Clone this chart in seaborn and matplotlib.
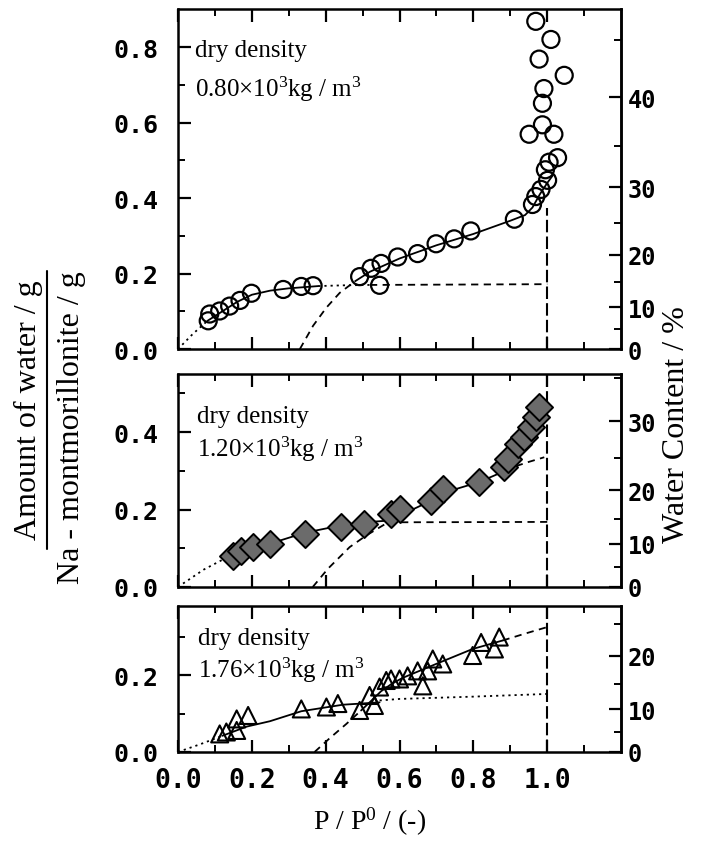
import numpy as np
import matplotlib
matplotlib.use("Agg")
import matplotlib.pyplot as plt
import seaborn as sns
from matplotlib.lines import Line2D

# ---------------- data ----------------
# Panel 1: dry density 0.80e3 kg/m3, open circles
p1_x = [0.082, 0.086, 0.113, 0.14, 0.168, 0.199, 0.285, 0.334, 0.366, 0.492, 0.523, 0.55,
        0.546, 0.595, 0.649, 0.699, 0.748, 0.793, 0.911, 0.96, 0.969, 0.983, 1.001, 1.005,
        0.995, 1.028, 0.951, 1.018, 0.987, 0.987, 0.991, 1.046, 0.978, 1.01, 0.969]
p1_y = [0.075, 0.093, 0.101, 0.114, 0.129, 0.148, 0.158, 0.166, 0.168, 0.192, 0.214, 0.227,
        0.169, 0.244, 0.253, 0.279, 0.292, 0.313, 0.344, 0.383, 0.404, 0.423, 0.447, 0.495,
        0.475, 0.507, 0.569, 0.569, 0.594, 0.651, 0.690, 0.725, 0.768, 0.82, 0.868]
p1_a_dot_x = [0.0, 0.04, 0.08]
p1_a_dot_y = [0.0, 0.04, 0.075]
p1_a_solid_x = [0.08, 0.12, 0.16, 0.2, 0.25, 0.3, 0.38]
p1_a_solid_y = [0.075, 0.1, 0.125, 0.144, 0.155, 0.161, 0.167]
p1_a_dot2_x = [0.38, 0.45, 0.52]
p1_a_dot2_y = [0.167, 0.169, 0.17]
p1_a_dash_x = [0.52, 1.0]
p1_a_dash_y = [0.17, 0.172]
p1_b_dash_x = [0.33, 0.366, 0.402, 0.438, 0.48]
p1_b_dash_y = [0.0, 0.062, 0.11, 0.149, 0.18]
p1_b_solid_x = [0.48, 0.52, 0.6, 0.7, 0.8, 0.9, 0.94, 0.96, 0.98, 1.0, 1.015]
p1_b_solid_y = [0.18, 0.205, 0.24, 0.275, 0.305, 0.34, 0.355, 0.375, 0.41, 0.44, 0.46]
p1_vline_y = [0.0, 0.374]

# Panel 2: dry density 1.20e3 kg/m3, filled diamonds
p2_x = [0.149, 0.172, 0.204, 0.249, 0.343, 0.442, 0.505, 0.577, 0.6, 0.686, 0.717, 0.816,
        0.884, 0.893, 0.92, 0.938, 0.956, 0.969, 0.978]
p2_y = [0.081, 0.094, 0.103, 0.111, 0.137, 0.154, 0.163, 0.189, 0.202, 0.223, 0.253, 0.271,
        0.309, 0.330, 0.369, 0.387, 0.412, 0.438, 0.464]
p2_a_dot_x = [0.0, 0.07, 0.14]
p2_a_dot_y = [0.0, 0.045, 0.08]
p2_solid_x = [0.14, 0.2, 0.25, 0.343, 0.442, 0.505, 0.564, 0.6, 0.686, 0.753, 0.816, 0.879, 0.915]
p2_solid_y = [0.08, 0.1, 0.112, 0.14, 0.159, 0.167, 0.171, 0.184, 0.223, 0.253, 0.271, 0.297, 0.312]
p2_a_dash_x = [0.57, 1.0]
p2_a_dash_y = [0.167, 0.168]
p2_b_dash_x = [0.365, 0.406, 0.465, 0.51, 0.555, 0.6]
p2_b_dash_y = [0.0, 0.047, 0.103, 0.133, 0.159, 0.184]
p2_b_dash2_x = [0.915, 0.95, 0.992]
p2_b_dash2_y = [0.312, 0.323, 0.335]
p2_vline_y = [0.0, 0.55]

# Panel 3: dry density 1.76e3 kg/m3, open triangles
p3_x = [0.113, 0.131, 0.159, 0.159, 0.19, 0.334, 0.402, 0.433, 0.492, 0.532, 0.519, 0.546,
        0.564, 0.577, 0.6, 0.622, 0.649, 0.663, 0.676, 0.69, 0.717, 0.798, 0.821, 0.857, 0.87]
p3_y = [0.047, 0.052, 0.056, 0.086, 0.095, 0.112, 0.117, 0.126, 0.108, 0.121, 0.147, 0.169,
        0.186, 0.19, 0.19, 0.198, 0.211, 0.172, 0.211, 0.242, 0.229, 0.251, 0.285, 0.268, 0.299]
p3_a_dot_x = [0.0, 0.06, 0.12]
p3_a_dot_y = [0.0, 0.02, 0.042]
p3_a_solid_x = [0.12, 0.186, 0.249, 0.334, 0.447, 0.546]
p3_a_solid_y = [0.042, 0.066, 0.08, 0.106, 0.123, 0.129]
p3_a_dot2_x = [0.546, 0.6, 0.8, 1.0]
p3_a_dot2_y = [0.134, 0.138, 0.144, 0.151]
p3_b_dash_x = [0.37, 0.41, 0.456, 0.496]
p3_b_dash_y = [0.0, 0.035, 0.073, 0.108]
p3_b_solid_x = [0.496, 0.52, 0.55, 0.58, 0.609, 0.699, 0.798, 0.879]
p3_b_solid_y = [0.108, 0.13, 0.158, 0.178, 0.193, 0.229, 0.268, 0.29]
p3_b_dash2_x = [0.879, 0.94, 1.0]
p3_b_dash2_y = [0.29, 0.308, 0.325]
p3_vline_y = [0.0, 0.38]

density_labels = ["0.80", "1.20", "1.76"]
x_ticks = [0.0, 0.2, 0.4, 0.6, 0.8, 1.0]

# ---------------- style ----------------
sns.set_theme(style="ticks")
plt.rcParams.update({
    "font.family": ["DejaVu Sans Mono"],
    "font.weight": "bold",
    "text.color": "black",
    "axes.labelcolor": "black",
    "mathtext.fontset": "custom",
    "mathtext.rm": "Liberation Serif:weight=normal",
    "mathtext.it": "Liberation Serif:italic:weight=normal",
    "mathtext.bf": "Liberation Serif:bold",
    "axes.linewidth": 1.8,
    "axes.edgecolor": "black",
    "xtick.color": "black", "ytick.color": "black",
    "xtick.labelcolor": "black", "ytick.labelcolor": "black",
    "xtick.direction": "in", "ytick.direction": "in",
    "xtick.major.size": 9, "xtick.minor.size": 5,
    "ytick.major.size": 9, "ytick.minor.size": 5,
    "xtick.major.width": 1.6, "xtick.minor.width": 1.4,
    "ytick.major.width": 1.6, "ytick.minor.width": 1.4,
    "axes.facecolor": "white", "figure.facecolor": "white",
})

SERIF = "Liberation Serif"
fig = plt.figure(figsize=(7.09, 8.54), dpi=100)
L, W = 0.251, 0.625
ax1 = fig.add_axes([L, 0.590, W, 0.398])
ax2 = fig.add_axes([L, 0.3115, W, 0.2494])
ax3 = fig.add_axes([L, 0.1183, W, 0.171])


def w2pct(w):
    w = np.asarray(w, dtype=float)
    with np.errstate(all="ignore"):
        return 100.0 * w / (1.0 + w)


def pct2w(p):
    p = np.asarray(p, dtype=float)
    with np.errstate(all="ignore"):
        return p / (100.0 - p)


def line(ax, xs, ys, ls, lw=1.3):
    sns.lineplot(x=xs, y=ys, ax=ax, color="black", linewidth=lw, linestyle=ls,
                 sort=False, estimator=None)


DOT = (0, (1.2, 2.2))
DASH = (0, (4, 3))
VDASH = (0, (6, 2))


def setup(ax, ylim, yticks, yminor, rticks, rminor, label_x, text_pos, dens):
    ax.set_xlim(0, 1.2)
    ax.set_ylim(*ylim)
    ax.set_xticks(x_ticks)
    ax.set_xticks([0.1, 0.3, 0.5, 0.7, 0.9, 1.1], minor=True)
    ax.set_yticks(yticks)
    ax.set_yticks(yminor, minor=True)
    ax.set_yticklabels([f"{v:.1f}" for v in yticks], fontsize=18)
    ax.set_xticklabels([f"{v:.1f}" for v in x_ticks], fontsize=19)
    ax.tick_params(axis="x", which="both", top=True, bottom=True, labelbottom=label_x, pad=11)
    ax.tick_params(axis="y", which="both", left=True, right=False, pad=14)
    ax.set_xlabel("")
    ax.set_ylabel("")
    sec = ax.secondary_yaxis("right", functions=(w2pct, pct2w))
    sec.set_yticks(rticks)
    sec.set_yticks(rminor, minor=True)
    sec.set_yticklabels([str(v) for v in rticks], fontsize=17)
    sec.tick_params(axis="y", which="both", direction="in", pad=5)
    sec.tick_params(axis="y", which="major", length=9, width=1.6)
    sec.tick_params(axis="y", which="minor", length=5, width=1.4)
    for s in ax.spines.values():
        s.set_linewidth(1.8)
    tx, ty1, ty2 = text_pos
    ax.text(tx, ty1, "dry density", transform=ax.transAxes, fontsize=18,
            family=SERIF, weight="normal", va="baseline", color="black")
    ax.text(tx, ty2, dens + "\u00d710$^{3}$kg / m$^{3}$", transform=ax.transAxes,
            fontsize=18, family=SERIF, weight="normal", va="baseline", color="black")


# ---------------- panel 1 ----------------
line(ax1, p1_a_dot_x, p1_a_dot_y, DOT)
line(ax1, p1_a_solid_x, p1_a_solid_y, "-")
line(ax1, p1_a_dot2_x, p1_a_dot2_y, DOT)
line(ax1, p1_a_dash_x, p1_a_dash_y, DASH)
line(ax1, p1_b_dash_x, p1_b_dash_y, DASH)
line(ax1, p1_b_solid_x, p1_b_solid_y, "-")
line(ax1, [1.0, 1.0], p1_vline_y, VDASH, lw=1.5)
sns.scatterplot(x=p1_x, y=p1_y, ax=ax1, marker="o", s=150, facecolors="none",
                edgecolor="black", linewidth=1.6, zorder=3)
setup(ax1, (0, 0.9), [0.0, 0.2, 0.4, 0.6, 0.8], [0.1, 0.3, 0.5, 0.7],
      [0, 10, 20, 30, 40], [5, 15, 25, 35, 45], False, (0.038, 0.862, 0.744),
      density_labels[0])

# ---------------- panel 2 ----------------
line(ax2, p2_a_dot_x, p2_a_dot_y, DOT)
line(ax2, p2_solid_x, p2_solid_y, "-")
line(ax2, p2_a_dash_x, p2_a_dash_y, DASH)
line(ax2, p2_b_dash_x, p2_b_dash_y, DASH)
line(ax2, p2_b_dash2_x, p2_b_dash2_y, DASH)
line(ax2, [1.0, 1.0], p2_vline_y, VDASH, lw=1.5)
sns.scatterplot(x=p2_x, y=p2_y, ax=ax2, marker="D", s=190, color="#6b6b6b",
                edgecolor="black", linewidth=1.4, zorder=3)
setup(ax2, (0, 0.55), [0.0, 0.2, 0.4], [0.1, 0.3, 0.5],
      [0, 10, 20, 30], [5, 15, 25, 35], False, (0.042, 0.775, 0.615),
      density_labels[1])

# ---------------- panel 3 ----------------
line(ax3, p3_a_dot_x, p3_a_dot_y, DOT)
line(ax3, p3_a_solid_x, p3_a_solid_y, "-")
line(ax3, p3_a_dot2_x, p3_a_dot2_y, DOT)
line(ax3, p3_b_dash_x, p3_b_dash_y, DASH)
line(ax3, p3_b_solid_x, p3_b_solid_y, "-")
line(ax3, p3_b_dash2_x, p3_b_dash2_y, DASH)
line(ax3, [1.0, 1.0], p3_vline_y, VDASH, lw=1.5)
sns.scatterplot(x=p3_x, y=p3_y, ax=ax3, marker="^", s=150, facecolors="none",
                edgecolor="black", linewidth=1.5, zorder=3)
setup(ax3, (0, 0.38), [0.0, 0.2], [0.1, 0.3],
      [0, 10, 20], [5, 15, 25], True, (0.045, 0.74, 0.514),
      density_labels[2])

# x label
ax3.set_xlabel("P / P$^{0}$ / (-)", fontsize=20, family=SERIF, weight="normal",
               color="black")
ax3.xaxis.set_label_coords(0.433, -0.36)

# left fraction label
fig.text(28 / 709, 1 - 410 / 854, "Amount of water / g", rotation=90, fontsize=23,
         family=SERIF, weight="normal", ha="center", va="center", color="black")
fig.text(72 / 709, 1 - 428 / 854, "Na - montmorillonite / g", rotation=90, fontsize=23,
         family=SERIF, weight="normal", ha="center", va="center", color="black")
fig.add_artist(Line2D([47 / 709, 47 / 709], [1 - 272 / 854, 1 - 550 / 854],
                      transform=fig.transFigure, color="black", linewidth=1.5))

# right label
fig.text(677 / 709, 1 - 425 / 854, "Water Content / %", rotation=90, fontsize=23,
         family=SERIF, weight="normal", ha="center", va="center", color="black")

fig.savefig("out.png", dpi=100)
